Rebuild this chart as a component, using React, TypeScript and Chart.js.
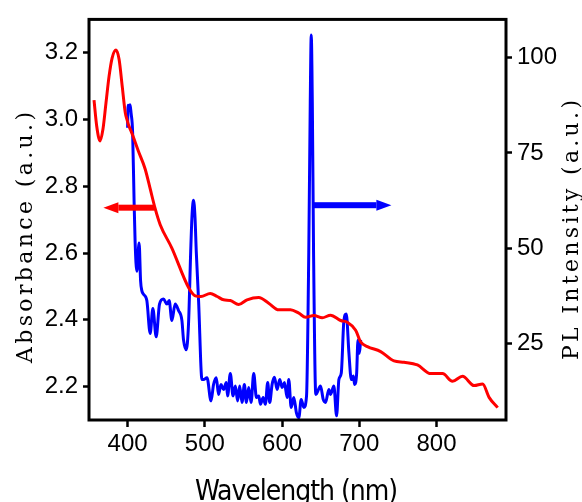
import React, { useEffect, useRef } from 'react';
import { Chart, registerables } from 'chart.js';

Chart.register(...registerables);

// Absorbance spectrum (left axis)
const ABS_NM = [356.5, 360, 364.3, 368, 372, 376, 380, 385, 389, 393, 397, 399.3, 401, 405.4, 414, 422.7, 429.2, 435.7, 442.2, 457.3, 478.9, 487.6, 495, 507, 516, 524.3, 533, 543.8, 554.7, 569.8, 582.7, 595.7, 610.9, 621.7, 630.4, 641.2, 652, 662.8, 675.8, 684.5, 695.3, 701.8, 710.5, 727.7, 745, 758, 775.3, 792.6, 807.8, 820.7, 833.7, 848.8, 859.7, 868.3, 879.2];
const ABS_VAL = [3.058, 2.98, 2.936, 2.97, 3.05, 3.13, 3.185, 3.208, 3.18, 3.1, 3.02, 2.999, 2.985, 2.96, 2.905, 2.852, 2.793, 2.733, 2.685, 2.615, 2.497, 2.472, 2.47, 2.479, 2.47, 2.46, 2.458, 2.446, 2.46, 2.467, 2.45, 2.43, 2.43, 2.42, 2.408, 2.413, 2.406, 2.414, 2.398, 2.393, 2.369, 2.334, 2.32, 2.305, 2.277, 2.273, 2.265, 2.239, 2.239, 2.216, 2.231, 2.203, 2.208, 2.167, 2.137];

// PL spectrum (right axis)
const PL_NM = [400.0, 400.6, 401.9, 403.2, 404.5, 406.5, 408.4, 409.7, 411.9, 414.9, 416.8, 418.4, 420.5, 424.9, 429.2, 432.7, 437.0, 441.3, 446.4, 450.9, 453.8, 457.3, 461.6, 465.9, 470.3, 472.4, 475.9, 478.9, 481.7, 483.5, 485.4, 487.3, 488.9, 491.9, 496.3, 498.4, 502.8, 508.0, 511.3, 514.8, 517.8, 520.9, 524.3, 527.8, 529.5, 533.0, 536.5, 539.5, 542.5, 545.1, 548.2, 551.2, 553.8, 556.8, 559.9, 563.3, 566.8, 569.8, 572.0, 575.5, 578.4, 581.4, 584.0, 587.1, 590.1, 593.6, 597.0, 600.1, 603.1, 606.6, 608.7, 611.8, 615.2, 618.7, 621.7, 624.8, 628.2, 631.7, 634.6, 636.5, 637.8, 639.2, 640.8, 643.7, 649.8, 653.3, 656.3, 660.6, 662.8, 667.1, 670.6, 673.6, 676.7, 680.1, 683.2, 686.6, 689.7, 692.3, 694.0, 696.6, 698.3, 700.1, 701.8];
const PL_VAL = [81.6, 87.5, 86.0, 87.6, 85.4, 80.3, 62.2, 51.8, 44.0, 51.4, 41.5, 38.9, 38.0, 36.3, 27.7, 34.2, 26.8, 35.4, 36.7, 35.4, 36.3, 31.1, 35.4, 33.7, 31.1, 26.0, 23.4, 30.3, 49.2, 59.0, 62.6, 58.0, 49.2, 36.3, 15.6, 15.6, 16.1, 10.0, 14.3, 16.1, 11.7, 14.3, 13.0, 14.8, 11.3, 17.2, 11.3, 13.9, 10.0, 13.9, 9.6, 14.3, 9.6, 13.5, 9.6, 17.2, 10.9, 11.3, 9.1, 10.9, 9.1, 14.8, 9.6, 14.3, 16.2, 13.0, 15.6, 13.5, 14.8, 10.9, 15.6, 8.3, 10.9, 6.8, 5.6, 10.4, 8.3, 11.3, 49.0, 88.0, 105.9, 88.0, 49.0, 11.7, 13.9, 10.4, 9.6, 13.0, 11.7, 13.9, 6.1, 15.6, 17.3, 31.1, 32.8, 22.5, 15.6, 16.5, 14.3, 17.3, 26.0, 22.5, 26.0];

const X_TICKS = [400, 500, 600, 700, 800];
const ABS_TICKS = [2.2, 2.4, 2.6, 2.8, 3.0, 3.2];
const PL_TICKS = [25, 50, 75, 100];

// arrows: [from nm, to nm, value]
const RED_ARROW = [435, 368.6, 2.736];
const BLUE_ARROW = [639, 741.6, 61.3];

const X_TITLE = 'Wavelength (nm)';
const Y_TITLE = 'Absorbance (a.u.)';
const Y1_TITLE = 'PL Intensity (a.u.)';

function drawArrow(ctx: CanvasRenderingContext2D, x0: number, y: number, x1: number, color: string) {
  const dir = Math.sign(x1 - x0);
  const headLen = 15;
  const headHalf = 5.5;
  const shaft = 6;
  ctx.fillStyle = color;
  const xs = x1 - dir * headLen;
  ctx.fillRect(Math.min(x0, xs), y - shaft / 2, Math.abs(xs - x0), shaft);
  ctx.beginPath();
  ctx.moveTo(x1, y);
  ctx.lineTo(xs, y - headHalf);
  ctx.lineTo(xs, y + headHalf);
  ctx.closePath();
  ctx.fill();
}

function drawSpaced(ctx: any, text: string, target: number) {
  ctx.letterSpacing = '0px';
  const w = ctx.measureText(text).width;
  const ls = (target - w) / (text.length - 1);
  ctx.letterSpacing = ls + 'px';
  ctx.textAlign = 'left';
  ctx.fillText(text, -target / 2, 0);
  ctx.letterSpacing = '0px';
}

const overlay = {
  id: 'overlay',
  afterDraw(chart: any) {
    const { ctx, chartArea: a, scales } = chart;
    ctx.save();
    ctx.strokeStyle = '#000';
    ctx.lineWidth = 3;
    ctx.strokeRect(a.left, a.top, a.right - a.left, a.bottom - a.top);

    drawArrow(ctx, scales.x.getPixelForValue(RED_ARROW[0]), scales.y.getPixelForValue(RED_ARROW[2]), scales.x.getPixelForValue(RED_ARROW[1]), '#ff0000');
    drawArrow(ctx, scales.x.getPixelForValue(BLUE_ARROW[0]), scales.y1.getPixelForValue(BLUE_ARROW[2]), scales.x.getPixelForValue(BLUE_ARROW[1]), '#0000ff');

    ctx.fillStyle = '#000';
    ctx.textBaseline = 'alphabetic';
    ctx.font = '22px "DejaVu Serif", serif';
    ctx.save();
    ctx.translate(32, 237.5);
    ctx.rotate(-Math.PI / 2);
    drawSpaced(ctx, Y_TITLE, 251);
    ctx.restore();

    ctx.save();
    ctx.translate(578, 230);
    ctx.rotate(-Math.PI / 2);
    drawSpaced(ctx, Y1_TITLE, 260);
    ctx.restore();

    ctx.font = '28px "Liberation Sans Narrow", "DejaVu Sans Condensed", sans-serif';
    ctx.save();
    ctx.translate(296.5, 500);
    drawSpaced(ctx, X_TITLE, 203);
    ctx.restore();
    ctx.restore();
  },
};

const tickFont = { family: '"Liberation Sans Narrow", "Liberation Sans", sans-serif', size: 24 };

export default function App() {
  const ref = useRef<HTMLCanvasElement>(null);
  useEffect(() => {
    if (!ref.current) return;
    const chart = new Chart(ref.current, {
      type: 'line',
      data: {
        datasets: [
          {
            label: 'Absorbance',
            data: ABS_NM.map((x, i) => ({ x, y: ABS_VAL[i] })),
            borderColor: '#ff0000',
            borderWidth: 3,
            pointRadius: 0,
            cubicInterpolationMode: 'monotone',
            yAxisID: 'y',
          },
          {
            label: 'PL',
            data: PL_NM.map((x, i) => ({ x, y: PL_VAL[i] })),
            borderColor: '#0000ff',
            borderWidth: 3,
            pointRadius: 0,
            cubicInterpolationMode: 'monotone',
            yAxisID: 'y1',
          },
        ],
      },
      options: {
        responsive: false,
        animation: false,
        layout: { padding: { top: 14, left: 0, right: 0, bottom: 0 } },
        plugins: { legend: { display: false }, tooltip: { enabled: false } },
        scales: {
          x: {
            type: 'linear',
            min: 350,
            max: 890,
            position: 'bottom',
            afterBuildTicks: (s: any) => { s.ticks = X_TICKS.map((v) => ({ value: v })); },
            afterFit: (s: any) => { s.height = 82; },
            ticks: { font: tickFont, color: '#000', padding: 3, maxRotation: 0, autoSkip: false },
            grid: { drawOnChartArea: false, drawTicks: true, tickLength: 7, tickWidth: 2.5, tickColor: '#000' },
            border: { display: false },
          },
          y: {
            type: 'linear',
            min: 2.1,
            max: 3.3,
            position: 'left',
            afterBuildTicks: (s: any) => { s.ticks = ABS_TICKS.map((v) => ({ value: v })); },
            afterFit: (s: any) => { s.width = 89; },
            ticks: { font: tickFont, color: '#000', padding: 5, callback: (v: any) => Number(v).toFixed(1) },
            grid: { drawOnChartArea: false, drawTicks: true, tickLength: 6, tickWidth: 2.5, tickColor: '#000' },
            border: { display: false },
          },
          y1: {
            type: 'linear',
            min: 5,
            max: 110,
            position: 'right',
            afterBuildTicks: (s: any) => { s.ticks = PL_TICKS.map((v) => ({ value: v })); },
            afterFit: (s: any) => { s.width = 76; },
            ticks: { font: tickFont, color: '#000', padding: 5 },
            grid: { drawOnChartArea: false, drawTicks: true, tickLength: 6, tickWidth: 2.5, tickColor: '#000' },
            border: { display: false },
          },
        },
      },
      plugins: [overlay],
    } as any);
    return () => chart.destroy();
  }, []);
  return (
    <div style={{ position: 'fixed', left: 0, top: 0, width: 582, height: 502, background: '#fff' }}>
      <canvas ref={ref} width={582} height={502} style={{ display: 'block' }} />
    </div>
  );
}
